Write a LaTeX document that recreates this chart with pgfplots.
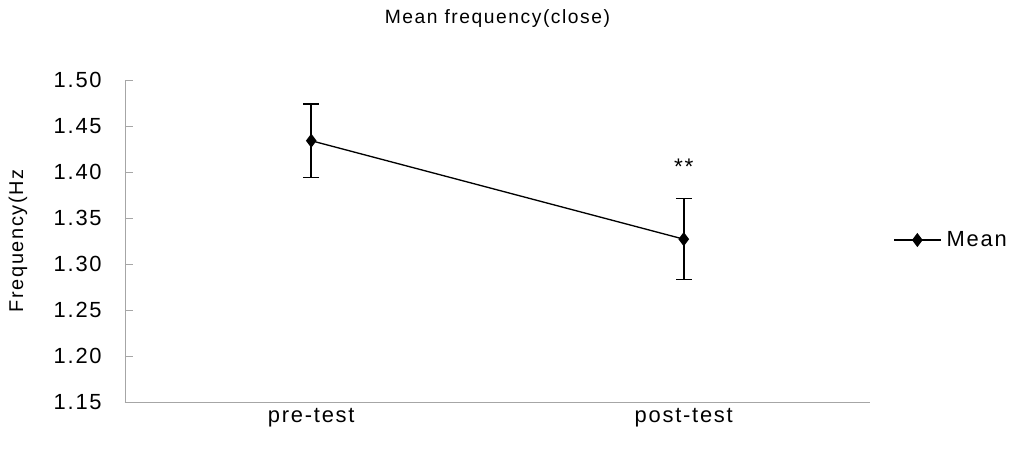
\documentclass[border=0pt]{standalone}
\usepackage{fontspec}
\setmainfont[LetterSpace=8]{Liberation Sans}
\usepackage{pgfplots}
\usetikzlibrary{calc}
\pgfplotsset{compat=1.18}
\begin{document}
\begin{tikzpicture}
\begin{axis}[
  scale only axis,
  width=558.75bp, height=241.5bp,
  xmin=0, xmax=2, ymin=1.15, ymax=1.50,
  axis x line=bottom, axis y line=left,
  axis line style={gray!70, line width=0.6pt, -},
  xtick={0.5,1.5}, xticklabels={pre-test,post-test},
  extra x ticks={1}, extra x tick labels={},
  extra x tick style={major tick length=8bp, tick style={gray!70}},
  x tick style={draw=none},
  xticklabel style={yshift=-1bp},
  ytick={1.15,1.20,...,1.50},
  yticklabel style={/pgf/number format/.cd, fixed, fixed zerofill, precision=2, /tikz/.cd, xshift=-14bp},
  /pgf/number format/assume math mode=true,
  y tick style={gray!70},
  tick align=inside, major tick length=6bp,
  ticklabel style={font=\fontsize{16.5}{18}\selectfont},
  ylabel={Frequency(Hz},
  ylabel style={font=\fontsize{15}{18}\selectfont, yshift=13bp},
  legend style={draw=none, at={(rel axis cs:1.031,0.503)}, anchor=west, font=\fontsize{16.5}{18}\selectfont, legend cell align=left, inner xsep=0pt,
    nodes={inner xsep=4bp}},
  legend image code/.code={\draw[mark repeat=2, mark phase=2, #1] plot coordinates {(0bp,0bp) (17.5bp,0bp) (35bp,0bp)};},
  clip=false,
]
\addplot[black, line width=1pt, mark=diamond*, mark size=4.5bp,
  error bars/.cd, y dir=both, y explicit, error bar style={line width=1.2pt}, error mark options={rotate=90, mark size=6bp, line width=1.2pt}]
  coordinates {(0.5,1.434) +- (0,0.040) (1.5,1.327) +- (0,0.044)};
\addlegendentry{Mean}
\node[font=\fontsize{17}{18}\selectfont] at (axis cs:1.5,1.406) {**};
\coordinate (O) at (rel axis cs:0,0);
\coordinate (T) at (rel axis cs:0.5,1);
\end{axis}
\node[font=\fontsize{14.5}{17}\selectfont, anchor=center] at ($(T)+(0,46bp)$) {Mean frequency(close)};
\pgfresetboundingbox
\path[use as bounding box] ($(O)+(-93.75bp,-35.25bp)$) rectangle ++(763.5bp,336.75bp);
\end{tikzpicture}
\end{document}
